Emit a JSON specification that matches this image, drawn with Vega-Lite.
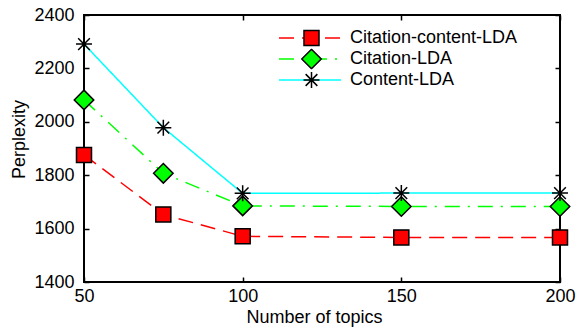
{
  "$schema": "https://vega.github.io/schema/vega-lite/v6.json",
  "width": 476,
  "height": 267,
  "autosize": "none",
  "padding": {"left": 84, "top": 15, "right": 23, "bottom": 46},
  "background": "white",
  "config": {
    "view": {"stroke": "black", "strokeWidth": 2},
    "font": "Liberation Sans",
    "axis": {
      "labelFont": "Liberation Sans",
      "titleFont": "Liberation Sans",
      "labelFontSize": 18,
      "titleFontSize": 18,
      "labelColor": "black",
      "titleColor": "black",
      "titleFontWeight": "normal",
      "domain": false,
      "grid": false,
      "tickColor": "black",
      "tickWidth": 1.5,
      "tickSize": -5,
      "labelFlush": false,
      "labelOverlap": false
    }
  },
  "data": {
    "values": [
      {"topics": 50, "perplexity": 1876, "method": "Citation-content-LDA"},
      {"topics": 75, "perplexity": 1653, "method": "Citation-content-LDA"},
      {"topics": 100, "perplexity": 1571, "method": "Citation-content-LDA"},
      {"topics": 150, "perplexity": 1567, "method": "Citation-content-LDA"},
      {"topics": 200, "perplexity": 1567, "method": "Citation-content-LDA"},
      {"topics": 50, "perplexity": 2082, "method": "Citation-LDA"},
      {"topics": 75, "perplexity": 1807, "method": "Citation-LDA"},
      {"topics": 100, "perplexity": 1685, "method": "Citation-LDA"},
      {"topics": 150, "perplexity": 1683, "method": "Citation-LDA"},
      {"topics": 200, "perplexity": 1683, "method": "Citation-LDA"},
      {"topics": 50, "perplexity": 2291, "method": "Content-LDA"},
      {"topics": 75, "perplexity": 1978, "method": "Content-LDA"},
      {"topics": 100, "perplexity": 1732, "method": "Content-LDA"},
      {"topics": 150, "perplexity": 1733, "method": "Content-LDA"},
      {"topics": 200, "perplexity": 1733, "method": "Content-LDA"}
    ]
  },
  "resolve": {"axis": {"x": "independent", "y": "independent"}},
  "layer": [
    {
      "mark": {"type": "line", "strokeWidth": 1.5, "clip": false},
      "encoding": {
        "x": {
          "field": "topics", "type": "quantitative",
          "scale": {"domain": [50, 200], "nice": false, "zero": false},
          "axis": {"orient": "bottom", "values": [50, 100, 150, 200], "title": "Number of topics", "labelPadding": 10, "titlePadding": 3, "titleX": 230}
        },
        "y": {
          "field": "perplexity", "type": "quantitative",
          "scale": {"domain": [1400, 2400], "nice": false, "zero": false},
          "axis": {"orient": "left", "values": [1400, 1600, 1800, 2000, 2200, 2400], "format": "d", "title": "Perplexity", "labelPadding": 15, "titlePadding": 5, "titleY": 124}
        },
        "stroke": {
          "field": "method", "type": "nominal",
          "scale": {"domain": ["Citation-content-LDA", "Citation-LDA", "Content-LDA"], "range": ["#ff0000", "#00ff00", "#00ffff"]},
          "legend": {"orient": "none", "legendX": 194, "legendY": 12.5, "title": null, "symbolType": "stroke", "symbolSize": 3844, "symbolStrokeWidth": 1.5, "labelFontSize": 18, "labelFont": "Liberation Sans", "labelColor": "black", "labelOffset": 8, "labelLimit": 300, "rowPadding": 0, "padding": 0, "clipHeight": 21}
        },
        "strokeDash": {
          "field": "method", "type": "nominal",
          "scale": {"domain": ["Citation-content-LDA", "Citation-LDA", "Content-LDA"], "range": [[15, 8], [15, 8, 2, 8], [1, 0]]},
          "legend": {"orient": "none", "legendX": 194, "legendY": 12.5, "title": null, "symbolType": "stroke", "symbolSize": 3844, "symbolStrokeWidth": 1.5, "labelFontSize": 18, "labelFont": "Liberation Sans", "labelColor": "black", "labelOffset": 8, "labelLimit": 300, "rowPadding": 0, "padding": 0, "clipHeight": 21}
        }
      }
    },
    {
      "mark": {"type": "point", "filled": true, "stroke": "black", "strokeWidth": 1.5, "size": 380, "opacity": 1, "clip": false},
      "encoding": {
        "x": {
          "field": "topics", "type": "quantitative",
          "axis": {"orient": "top", "values": [50, 100, 150, 200], "labels": false, "title": null}
        },
        "y": {
          "field": "perplexity", "type": "quantitative",
          "axis": {"orient": "right", "values": [1400, 1600, 1800, 2000, 2200, 2400], "labels": false, "title": null}
        },
        "fill": {
          "field": "method", "type": "nominal",
          "sort": {"field": "perplexity", "op": "mean", "order": "ascending"},
          "scale": {"range": ["#ff0000", "#00ff00", "#00ffff"]},
          "legend": {"orient": "none", "legendX": 217, "legendY": 12.5, "title": null, "symbolSize": 380, "symbolStrokeColor": "black", "symbolStrokeWidth": 1.5, "symbolOpacity": 1, "labelExpr": "''", "labelFontSize": 18, "rowPadding": 0, "padding": 0, "clipHeight": 21, "zindex": 1,
            "encode": {"symbols": {"update": {"stroke": {"value": "black"}, "strokeWidth": {"value": 1.5}, "opacity": {"value": 1}}}}}
        },
        "shape": {
          "field": "method", "type": "nominal",
          "sort": {"field": "perplexity", "op": "mean", "order": "ascending"},
          "scale": {"range": ["M-0.77,-0.77H0.77V0.77H-0.77Z", "M-1,0L0,-1L1,0L0,1Z", "M-0.82,0L0.82,0M0,-0.82L0,0.82M-0.6,-0.6L0.6,0.6M-0.6,0.6L0.6,-0.6"]},
          "legend": {"orient": "none", "legendX": 217, "legendY": 12.5, "title": null, "symbolSize": 380, "symbolStrokeColor": "black", "symbolStrokeWidth": 1.5, "symbolOpacity": 1, "labelExpr": "''", "labelFontSize": 18, "rowPadding": 0, "padding": 0, "clipHeight": 21, "zindex": 1,
            "encode": {"symbols": {"update": {"stroke": {"value": "black"}, "strokeWidth": {"value": 1.5}, "opacity": {"value": 1}}}}}
        }
      }
    }
  ]
}
